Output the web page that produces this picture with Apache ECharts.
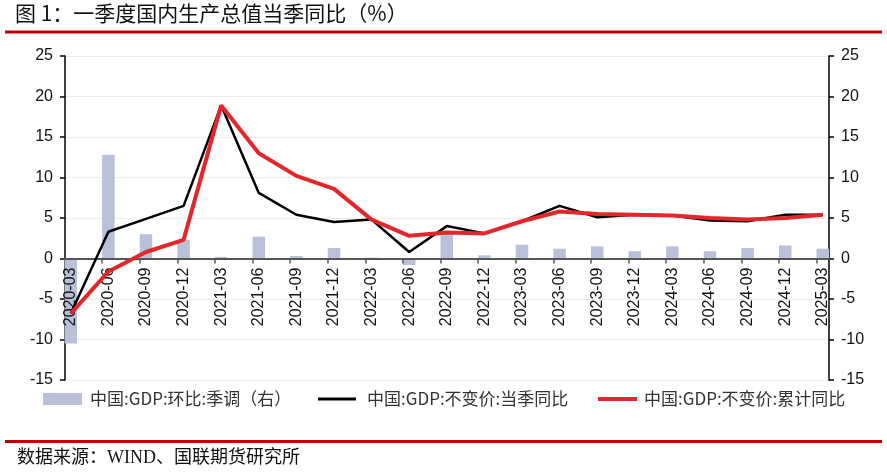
<!DOCTYPE html>
<html>
<head>
<meta charset="utf-8">
<script src="https://cdn.jsdelivr.net/npm/echarts@6/dist/echarts.min.js"></script>
<style>
html,body{margin:0;padding:0;background:#fff;}
#chart{width:887px;height:472px;}
</style>
</head>
<body>
<div id="chart"></div>
<script>
// ---- data ----
const categories = ['2020-03','2020-06','2020-09','2020-12','2021-03','2021-06','2021-09','2021-12',
  '2022-03','2022-06','2022-09','2022-12','2023-03','2023-06','2023-09','2023-12',
  '2024-03','2024-06','2024-09','2024-12','2025-03'];
const qoqSA = [-10.5, 12.8, 3.0, 2.3, 0.2, 2.7, 0.3, 1.3,
  0.1, -0.8, 3.0, 0.4, 1.7, 1.2, 1.5, 0.9,
  1.5, 0.9, 1.3, 1.6, 1.2];
const yoyQuarter = [-6.8, 3.3, 4.9, 6.5, 18.9, 8.1, 5.4, 4.5,
  4.8, 0.8, 4.0, 3.1, 4.6, 6.5, 5.1, 5.4,
  5.3, 4.7, 4.6, 5.4, 5.4];
const yoyCumulative = [-6.8, -1.6, 0.8, 2.3, 18.9, 13.0, 10.2, 8.6,
  4.8, 2.8, 3.2, 3.1, 4.6, 5.8, 5.5, 5.4,
  5.3, 5.0, 4.8, 5.0, 5.4];
const yTicks = [-15, -10, -5, 0, 5, 10, 15, 20, 25];
const names = ['中国:GDP:环比:季调（右）', '中国:GDP:不变价:当季同比', '中国:GDP:不变价:累计同比'];
const titleText = '图 1：一季度国内生产总值当季同比（%）';
const sourceText = '数据来源：WIND、国联期货研究所';

// ---- build ----
const idx = categories.map((c, i) => i);
const pairs = arr => arr.map((v, i) => [i, v]);
const tickOffset = 0.168;
const gridTop = 56, gridBottom = 92, chartH = 472;
const plotH = chartH - gridTop - gridBottom;
const yMin = yTicks[0], yMax = yTicks[yTicks.length - 1];
// shift x axis from grid bottom up to the zero line
const zeroShift = -plotH * (0 - yMin) / (yMax - yMin);

const chart = echarts.init(document.getElementById('chart'), null, {renderer: 'canvas'});
const cjk = '"Noto Sans CJK SC", "Noto Sans", sans-serif';
const num = '"Liberation Sans", Arial, sans-serif';

const yAxisBase = (pos) => ({
  type: 'value', position: pos, min: yMin, max: yMax, interval: 5,
  axisLine: {show: true, onZero: false, lineStyle: {color: '#000', width: 1.5}},
  axisTick: {show: true, inside: false, length: 5, lineStyle: {color: '#000', width: 1.5}},
  axisLabel: {fontFamily: num, fontSize: 16, color: '#111', margin: 12},
  splitLine: {show: pos === 'left', lineStyle: {color: '#ececec', width: 1}}
});

const legendBase = (name, left, iconW, iconH, pad) => ({
  data: [name], left: left, top: 389, padding: 0, icon: 'rect',
  itemWidth: iconW, itemHeight: iconH, selectedMode: false,
  textStyle: {fontFamily: cjk, fontSize: 17, color: '#333', lineHeight: 20, padding: [0, 0, 0, pad]}
});

chart.setOption({
  animation: false,
  backgroundColor: '#fff',
  grid: {left: 65, right: 58, top: gridTop, bottom: gridBottom, containLabel: false},
  xAxis: {
    type: 'value', min: -0.154, max: 20.165, position: 'bottom', offset: zeroShift, z: 2,
    axisLine: {show: true, onZero: false, lineStyle: {color: '#555', width: 2}},
    axisTick: {show: true, length: 5, customValues: idx.map(i => i - tickOffset), lineStyle: {color: '#555', width: 1.5}},
    axisLabel: {customValues: idx, rotate: 90, margin: 9, fontFamily: num, fontSize: 16, color: '#111',
      formatter: v => categories[Math.round(v)] || ''},
    splitLine: {show: false}
  },
  yAxis: [yAxisBase('left'), yAxisBase('right')],
  legend: [
    legendBase(names[0], 43, 39, 12, 3),
    legendBase(names[1], 318, 38, 3, 6),
    legendBase(names[2], 598, 39, 4, 2)
  ],
  series: [
    {name: names[0], type: 'bar', yAxisIndex: 1, data: pairs(qoqSA), barWidth: 12.5,
      itemStyle: {color: '#B8C1D9'}, z: 1},
    {name: names[1], type: 'line', yAxisIndex: 0, data: pairs(yoyQuarter), symbol: 'none',
      lineStyle: {color: '#000', width: 2.5}, itemStyle: {color: '#000'}, z: 3},
    {name: names[2], type: 'line', yAxisIndex: 0, data: pairs(yoyCumulative), symbol: 'none',
      lineStyle: {color: '#E3262B', width: 4}, itemStyle: {color: '#E3262B'}, z: 4}
  ],
  graphic: [
    {type: 'text', left: 15, top: 3, style: {text: titleText, font: '21px ' + cjk, fill: '#111'}},
    {type: 'rect', shape: {x: 5, y: 30.5, width: 877, height: 3}, style: {fill: '#C00000'}},
    {type: 'rect', shape: {x: 5, y: 440, width: 877, height: 3}, style: {fill: '#C00000'}},
    {type: 'text', left: 17, top: 449, style: {text: sourceText, font: '18px "Liberation Serif", "Noto Sans CJK SC", serif', fill: '#111'}}
  ]
});
</script>
</body>
</html>
